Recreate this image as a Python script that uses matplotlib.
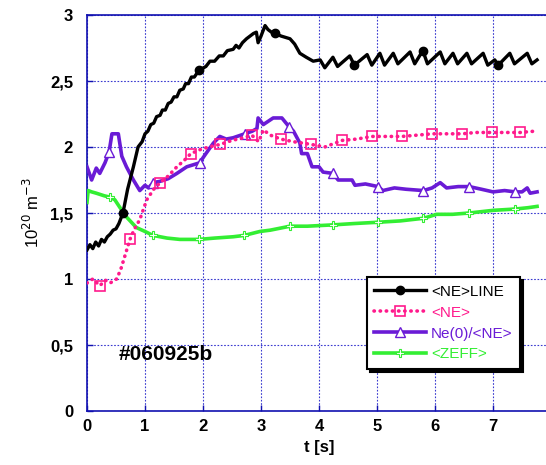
import numpy as np
import matplotlib
matplotlib.use("Agg")
import matplotlib.pyplot as plt
import matplotlib.ticker as mticker

plt.rcParams['font.family'] = ['Liberation Sans', 'DejaVu Sans']

# <NE>LINE
t_line = [0.0, 0.05, 0.1, 0.15, 0.2, 0.25, 0.3, 0.35, 0.4, 0.45,
          0.5, 0.55, 0.62, 0.7, 0.8, 0.88, 0.95, 1.0, 1.05, 1.1,
          1.15, 1.2, 1.26, 1.3, 1.35, 1.4, 1.45, 1.5, 1.55, 1.6,
          1.66, 1.7, 1.75, 1.8, 1.85, 1.93, 2.05, 2.12, 2.2, 2.28,
          2.35, 2.42, 2.52, 2.57, 2.62, 2.68, 2.75, 2.87, 2.92, 2.95,
          3.0, 3.07, 3.12, 3.18, 3.24, 3.35, 3.5, 3.58, 3.67, 3.78,
          3.9, 4.02, 4.1,
          4.24, 4.32, 4.53, 4.61, 4.83, 4.91, 5.05, 5.13, 5.28, 5.36,
          5.57, 5.65, 5.79, 5.87, 6.09, 6.17, 6.31, 6.39, 6.55, 6.63,
          6.83, 6.91, 7.03, 7.09, 7.29, 7.37, 7.59, 7.67, 7.76]
v_line = [1.22, 1.26, 1.23, 1.28, 1.25, 1.30, 1.28, 1.32, 1.34, 1.37,
          1.38, 1.42, 1.50, 1.68, 1.85, 2.00, 2.04, 2.10, 2.12, 2.17,
          2.18, 2.23, 2.24, 2.28, 2.28, 2.33, 2.34, 2.38, 2.38, 2.43,
          2.44, 2.48, 2.48, 2.53, 2.53, 2.58, 2.61, 2.65, 2.65, 2.69,
          2.69, 2.73, 2.74, 2.77, 2.75, 2.79, 2.82, 2.86, 2.87, 2.79,
          2.84, 2.92, 2.89, 2.87, 2.86, 2.84, 2.82, 2.78, 2.71, 2.68,
          2.65, 2.66, 2.60,
          2.68, 2.61, 2.69, 2.62, 2.70, 2.62, 2.71, 2.62, 2.71, 2.63,
          2.72, 2.63, 2.73, 2.63, 2.72, 2.63, 2.71, 2.63, 2.71, 2.63,
          2.71, 2.62, 2.66, 2.62, 2.71, 2.63, 2.71, 2.63, 2.66]
mk_line = [0.62, 1.93, 3.24, 4.61, 5.79, 7.09]

# <NE>
t_ne = [0.0, 0.1, 0.22, 0.32, 0.4, 0.51, 0.58, 0.65, 0.74, 0.82,
        0.91, 1.03, 1.15, 1.26, 1.4, 1.55, 1.68, 1.79, 1.95, 2.1,
        2.3, 2.5, 2.7, 2.84, 2.96, 3.04, 3.16, 3.34, 3.56, 3.86,
        4.1, 4.4, 4.65, 4.91, 5.15, 5.43, 5.7, 5.95, 6.2, 6.47,
        6.7, 6.98, 7.2, 7.47, 7.72]
v_ne = [0.97, 1.00, 0.95, 0.99, 0.97, 1.00, 1.07, 1.17, 1.30, 1.38,
        1.45, 1.60, 1.68, 1.73, 1.78, 1.85, 1.90, 1.95, 1.98, 2.00,
        2.02, 2.05, 2.07, 2.09, 2.04, 2.13, 2.09, 2.06, 2.04, 2.02,
        2.00, 2.05, 2.06, 2.08, 2.08, 2.08, 2.09, 2.10, 2.10, 2.10,
        2.11, 2.11, 2.11, 2.11, 2.12]
mk_ne = [0.22, 0.74, 1.26, 1.79, 2.3, 2.84, 3.34, 3.86, 4.4, 4.91,
         5.43, 5.95, 6.47, 6.98, 7.47]

# Ne(0)/<NE>
t_pk = [0.0, 0.08, 0.16, 0.22, 0.31, 0.38, 0.43, 0.54, 0.6, 0.68,
        0.8, 0.91, 1.0, 1.06, 1.14, 1.26, 1.4, 1.55, 1.72, 1.94,
        2.05, 2.18, 2.29, 2.4, 2.52, 2.72, 2.85, 2.93, 2.95, 3.04,
        3.21, 3.36, 3.49, 3.56, 3.67, 3.7, 3.8, 3.88, 4.0, 4.07,
        4.24, 4.33, 4.57, 4.62, 4.8, 5.02, 5.1, 5.3, 5.5, 5.8,
        5.95, 6.09, 6.2, 6.4, 6.59, 6.8, 7.0, 7.2, 7.38, 7.5,
        7.59, 7.64, 7.76]
v_pk = [1.85, 1.75, 1.84, 1.80, 1.88, 1.96, 2.10, 2.10, 1.93, 1.85,
        1.75, 1.67, 1.71, 1.69, 1.73, 1.74, 1.76, 1.80, 1.85, 1.88,
        1.95, 2.03, 2.08, 2.06, 2.07, 2.10, 2.12, 2.14, 2.22, 2.17,
        2.22, 2.22, 2.15, 2.12, 2.03, 1.95, 1.95, 1.85, 1.85, 1.81,
        1.80, 1.75, 1.75, 1.71, 1.72, 1.70, 1.67, 1.69, 1.68, 1.67,
        1.69, 1.73, 1.69, 1.70, 1.70, 1.68, 1.66, 1.67, 1.66, 1.66,
        1.69, 1.65, 1.66]
mk_pk = [0.38, 1.14, 1.94, 2.72, 3.49, 4.24, 5.02, 5.8, 6.59, 7.38]

# <ZEFF>
t_zeff = [0.0, 0.02, 0.08, 0.16, 0.3, 0.4, 0.48, 0.57, 0.68, 0.85,
          1.0, 1.14, 1.38, 1.6, 1.93, 2.2, 2.52, 2.71, 2.98, 3.16,
          3.5, 3.8, 4.24, 4.6, 5.02, 5.4, 5.8, 6.03, 6.3, 6.59,
          7.0, 7.38, 7.6, 7.76]
v_zeff = [1.58, 1.67, 1.66, 1.65, 1.63, 1.62, 1.60, 1.54, 1.47, 1.39,
          1.36, 1.33, 1.31, 1.30, 1.30, 1.31, 1.32, 1.33, 1.36, 1.37,
          1.40, 1.40, 1.41, 1.42, 1.43, 1.44, 1.46, 1.49, 1.49, 1.50,
          1.52, 1.53, 1.54, 1.55]
mk_zeff = [0.4, 1.14, 1.93, 2.71, 3.5, 4.24, 5.02, 5.8, 6.59, 7.38]


def idx(t, mk):
    t = np.array(t)
    return [int(np.argmin(np.abs(t - m))) for m in mk]


fig = plt.figure(figsize=(5.46, 4.65), dpi=100)
ax = fig.add_axes([87/546, 54/465, 464/546, 396/465])

c_pink = '#ff1a8c'
c_purp = '#6a1bd6'
c_green = '#33ee33'

ax.plot(t_line, v_line, color='black', lw=2.4, marker='o', ms=6,
        markevery=idx(t_line, mk_line), label='<NE>LINE', zorder=5)
ax.plot(t_ne, v_ne, color=c_pink, lw=2.6, ls=(0, (0.1, 1.6)), dash_capstyle='round',
        marker='s', ms=7, mfc='none', mew=1.2,
        markevery=idx(t_ne, mk_ne), label='<NE>', zorder=4)
ax.plot(t_pk, v_pk, color=c_purp, lw=2.6, marker='^', ms=7, mfc='white', mew=1.0,
        markevery=idx(t_pk, mk_pk), label='Ne(0)/<NE>', zorder=3)
ax.plot(t_zeff, v_zeff, color=c_green, lw=2.6, marker='P', ms=6, mfc='white', mew=0.8,
        markevery=idx(t_zeff, mk_zeff), label='<ZEFF>', zorder=3)

ax.set_xlim(0, 8)
ax.set_ylim(0, 3)
ax.set_xticks(range(0, 9))
ax.set_yticks(np.arange(0, 3.01, 0.5))
ax.yaxis.set_major_formatter(mticker.FuncFormatter(
    lambda v, p: ('%g' % v).replace('.', ',')))
ax.grid(True, color='#3a3ad0', lw=0.8, ls=(0, (1.5, 1.5)))
for s in ax.spines.values():
    s.set_color('#1010b0')
    s.set_linewidth(1.2)
ax.tick_params(direction='in', color='#1010b0', length=4, width=1,
               labelsize=12)
ax.tick_params(axis='y', pad=10)
ax.tick_params(axis='x', pad=6)
for lab in ax.get_xticklabels() + ax.get_yticklabels():
    lab.set_fontweight('bold')

ax.set_xlabel('t [s]', fontsize=12, fontweight='bold', labelpad=4)
ax.set_ylabel('10$^{20}$ m$^{-3}$', fontsize=12, labelpad=6)

ax.text(0.55, 0.39, '#060925b', fontsize=15, fontweight='bold', ha='left', va='baseline')

leg = ax.legend(loc='upper left', bbox_to_anchor=(0.603, 0.338), borderaxespad=0,
                fontsize=11, labelcolor='linecolor', handlelength=3.4,
                handletextpad=0.3, labelspacing=0.45, borderpad=0.5,
                fancybox=False, framealpha=1, edgecolor='black',
                shadow={'color': 'black', 'alpha': 1})
leg.get_frame().set_linewidth(1.5)

fig.savefig('out.png', dpi=100)
